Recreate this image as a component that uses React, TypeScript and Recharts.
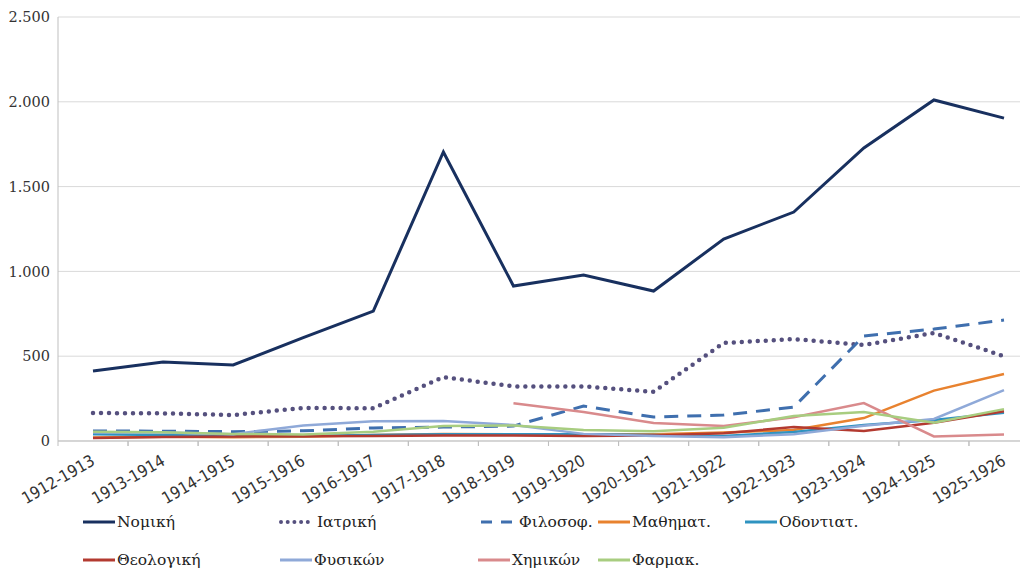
import React from 'react'
import { LineChart, Line, XAxis, YAxis, CartesianGrid } from 'recharts'

const categories = [
  '1912-1913', '1913-1914', '1914-1915', '1915-1916', '1916-1917', '1917-1918', '1918-1919',
  '1919-1920', '1920-1921', '1921-1922', '1922-1923', '1923-1924', '1924-1925', '1925-1926',
]

const nomiki = [413, 466, 448, 610, 766, 1704, 914, 979, 884, 1191, 1350, 1728, 2011, 1904]
const iatriki = [165, 163, 153, 195, 193, 377, 322, 322, 290, 578, 601, 566, 637, 500]
const filosof = [59, 58, 55, 60, 77, 82, 88, 206, 141, 153, 200, 619, 660, 713]
const mathimat = [20, 25, 22, 25, 35, 42, 40, 40, 40, 50, 65, 135, 297, 395]
const odontiat = [40, 35, 30, 30, 35, 40, 40, 40, 35, 30, 53, 94, 124, 167]
const theologiki = [18, 24, 27, 28, 30, 32, 32, 30, 33, 45, 83, 59, 108, 175]
const fysikon = [50, 50, 40, 92, 116, 118, 94, 42, 30, 22, 40, 90, 130, 300]
const chimikon = [null, null, null, null, null, null, 222, 171, 106, 88, 140, 224, 27, 38]
const farmak = [55, 52, 42, 38, 55, 88, 92, 65, 58, 78, 147, 171, 108, 188]

const yTicks = [0, 500, 1000, 1500, 2000, 2500]

type Style = 'solid' | 'dot' | 'dash'

const series: { key: string; name: string; values: (number | null)[]; color: string; style: Style; width: number }[] = [
  { key: 'nomiki', name: 'Νομική', values: nomiki, color: '#18305f', style: 'solid', width: 3 },
  { key: 'iatriki', name: 'Ιατρική', values: iatriki, color: '#55507e', style: 'dot', width: 4.5 },
  { key: 'filosof', name: 'Φιλοσοφ.', values: filosof, color: '#3f6fae', style: 'dash', width: 3 },
  { key: 'mathimat', name: 'Μαθηματ.', values: mathimat, color: '#e8822f', style: 'solid', width: 2.5 },
  { key: 'odontiat', name: 'Οδοντιατ.', values: odontiat, color: '#2f93c0', style: 'solid', width: 2.5 },
  { key: 'theologiki', name: 'Θεολογική', values: theologiki, color: '#b33a30', style: 'solid', width: 2.5 },
  { key: 'fysikon', name: 'Φυσικών', values: fysikon, color: '#8fa9d8', style: 'solid', width: 2.5 },
  { key: 'chimikon', name: 'Χημικών', values: chimikon, color: '#d98a8c', style: 'solid', width: 2.5 },
  { key: 'farmak', name: 'Φαρμακ.', values: farmak, color: '#a8cd80', style: 'solid', width: 2.5 },
]

// legend item left edges and row centres (page px minus body margin)
const legendPos = [
  [75, 514], [270, 514], [472, 514], [590, 514], [737, 514],
  [75, 552], [272, 552], [470, 552], [590, 552],
]

const SERIF = "'DejaVu Serif', 'Noto Serif', 'Liberation Serif', serif"

const data = categories.map((c, i) => {
  const row: Record<string, string | number | null> = { year: c }
  series.forEach((s) => {
    row[s.key] = s.values[i]
  })
  return row
})

const fmt = (v: number) => String(v).replace(/\B(?=(\d{3})+(?!\d))/g, '.')

const HALF = 35

function XTick(props: any) {
  const { x, y, payload } = props
  const ax = x + 3
  const ay = y + 15
  return (
    <g>
      <line x1={x - HALF} x2={x - HALF} y1={y - 8} y2={y - 3} stroke="#bfbfbf" />
      <line x1={x + HALF} x2={x + HALF} y1={y - 8} y2={y - 3} stroke="#bfbfbf" />
      <text
        x={ax}
        y={ay}
        transform={`rotate(-30, ${ax}, ${ay})`}
        textAnchor="end"
        fill="#333"
        fontSize={16.5}
        fontFamily="'DejaVu Sans Condensed', 'Liberation Sans Narrow', 'Liberation Sans', sans-serif"
      >
        {payload.value}
      </text>
    </g>
  )
}

function Sample({ color, style }: { color: string; style: Style }) {
  if (style === 'dot') {
    return (
      <svg width={32} height={10}>
        <line x1={3} x2={30} y1={5} y2={5} stroke={color} strokeWidth={4} strokeDasharray="0 6.7" strokeLinecap="round" />
      </svg>
    )
  }
  if (style === 'dash') {
    return (
      <svg width={32} height={10}>
        <line x1={1} x2={32} y1={5} y2={5} stroke={color} strokeWidth={3} strokeDasharray="11 9" />
      </svg>
    )
  }
  return (
    <svg width={32} height={10}>
      <line x1={0} x2={32} y1={5} y2={5} stroke={color} strokeWidth={3} />
    </svg>
  )
}

function ChartLegend() {
  return (
    <>
      {series.map((s, i) => (
        <div
          key={s.key}
          style={{
            position: 'absolute',
            left: legendPos[i][0],
            top: legendPos[i][1] - 13,
            height: 26,
            display: 'flex',
            alignItems: 'center',
            fontFamily: SERIF,
            fontSize: 15.5,
            color: '#222',
            whiteSpace: 'nowrap',
          }}
        >
          <Sample color={s.color} style={s.style} />
          <span style={{ marginLeft: s.style === 'solid' ? 2 : 7 }}>{s.name}</span>
        </div>
      ))}
    </>
  )
}

export default function App() {
  return (
    <div style={{ position: 'relative', width: 1012, height: 571, overflow: 'hidden' }}>
      <LineChart width={1032} height={570} data={data} margin={{ top: 9, right: 1, left: 0, bottom: 0 }}>
        <CartesianGrid vertical={false} stroke="#d9d9d9" />
        <XAxis
          dataKey="year"
          height={137}
          padding={{ left: HALF, right: HALF }}
          stroke="#bfbfbf"
          tickLine={false}
          interval={0}
          tick={<XTick />}
        />
        <YAxis
          width={50}
          domain={[0, 2500]}
          ticks={yTicks}
          tickFormatter={fmt}
          stroke="#bfbfbf"
          tickLine={false}
          tick={{ fill: '#333', fontSize: 14.5, fontFamily: SERIF }}
        />
        {series.map((s) => (
          <Line
            key={s.key}
            dataKey={s.key}
            name={s.name}
            stroke={s.color}
            strokeWidth={s.width}
            strokeDasharray={s.style === 'dot' ? '0 8' : s.style === 'dash' ? '14 9' : undefined}
            strokeLinecap={s.style === 'dot' ? 'round' : 'butt'}
            dot={false}
            activeDot={false}
            isAnimationActive={false}
            type="linear"
          />
        ))}
      </LineChart>
      <ChartLegend />
    </div>
  )
}
